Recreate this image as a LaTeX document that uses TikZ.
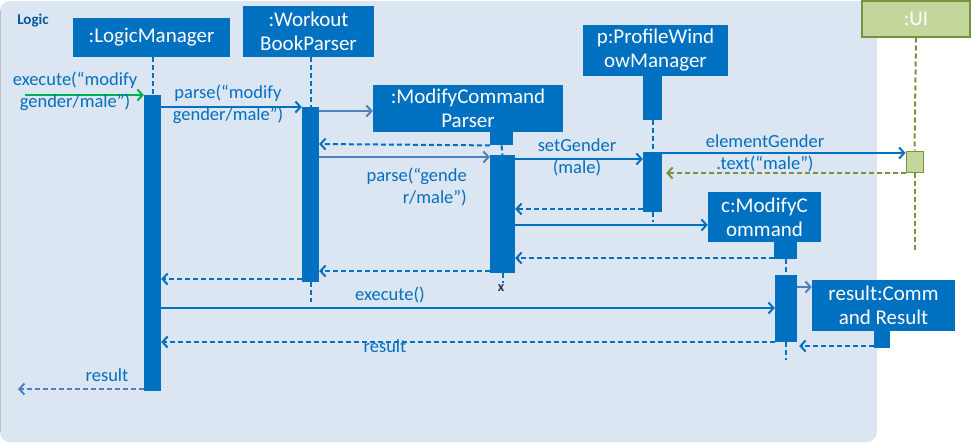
\documentclass[tikz,border=0pt]{standalone}
\usepackage{fontspec}
\setmainfont{Carlito}
\usetikzlibrary{arrows.meta}
\definecolor{mainblue}{RGB}{0,112,192}
\definecolor{steelblue}{RGB}{79,129,189}
\definecolor{panelblue}{RGB}{220,230,242}
\definecolor{uigreen}{RGB}{195,214,155}
\definecolor{olivegreen}{RGB}{119,147,60}
\definecolor{callgreen}{RGB}{0,176,80}
\definecolor{navy}{RGB}{31,56,100}

\tikzset{
  lifebox/.style={fill=mainblue, text=white, align=center, inner sep=0pt,
    font=\fontsize{21}{24}\selectfont},
  actbar/.style={fill=mainblue, inner sep=0pt, minimum width=17},
  lifeline/.style={draw=mainblue, line width=2pt, dash pattern=on 5pt off 3pt},
  msg/.style={draw=mainblue, line width=2pt, -{Straight Barb[length=5pt,width=11pt]}},
  retmsg/.style={msg, dash pattern=on 5pt off 3pt},
  msglabel/.style={text=mainblue, align=center, inner sep=0pt,
    font=\fontsize{18.5}{22}\selectfont}
}

\begin{document}
\begin{tikzpicture}[x=1pt, y=-1pt]
  \useasboundingbox (0,0) rectangle (971,442);

  % Hintergrund
  \fill[panelblue, rounded corners=10] (0,1) rectangle (877,442);
  \draw[black!25, line width=1.5] (0.7,10) -- (0.7,432);
  \node[text=mainblue!80!black, font=\fontsize{15}{17}\selectfont\bfseries] (logic) at (33,21) {Logic};

  % Lebenslinien (Köpfe)
  \node[lifebox, minimum width=157, minimum height=39] (lm) at (151.5,37.5) {:LogicManager};
  \node[lifebox, minimum width=131, minimum height=51] (wbp) at (308.5,31.5) {:Workout\\BookParser};
  \node[lifebox, minimum width=190, minimum height=47] (mcp) at (468,108.5) {:ModifyCommand\\Parser};
  \node[lifebox, minimum width=145, minimum height=51] (pwm) at (655.5,50.5) {p:ProfileWind\\owManager};
  \node[lifebox, minimum width=113, minimum height=50] (cmc) at (764.5,217) {c:ModifyC\\ommand};
  \node[lifebox, minimum width=143, minimum height=51] (cr) at (883.5,305.5) {result:Comm\\and Result};
  \node[lifebox, fill=uigreen, draw=olivegreen, line width=2pt,
        minimum width=108, minimum height=36] (ui) at (916,18.5) {:UI};

  % kleine Bloecke unter den Koepfen
  \node[actbar, minimum width=23, minimum height=13, anchor=north] (mcpB) at (501.5,132) {};
  \node[actbar, minimum width=19, minimum height=44, anchor=north] (pwmB) at (652.5,75.5) {};
  \node[actbar, minimum width=23, minimum height=17, anchor=north] (cmcB) at (785.5,242) {};
  \node[actbar, minimum width=16, minimum height=17, anchor=north] (crB) at (882,331) {};

  % Aktivierungen
  \node[actbar, minimum height=296, anchor=north] (lmA) at (152.5,95) {};
  \node[actbar, minimum height=175, anchor=north] (wbpA) at (310.5,107) {};
  \node[actbar, minimum width=25, minimum height=118, anchor=north] (mcpA) at (502.5,155) {};
  \node[actbar, minimum width=19, minimum height=60, anchor=north] (pwmA) at (652.5,152) {};
  \node[actbar, minimum width=22, minimum height=67, anchor=north] (cmcA) at (786,275) {};
  \node[fill=uigreen, draw=olivegreen, line width=1pt, inner sep=0pt,
        minimum width=17, minimum height=21, anchor=north] (uiA) at (914.5,150.5) {};

  % gestrichelte Linien
  \draw[lifeline] (lm.south -| lmA) -- (lmA.north);
  \draw[lifeline] (wbp.south -| wbpA) -- (wbpA.north);
  \draw[lifeline] (wbpA.south) -- ++(0,20);
  \draw[lifeline] (mcpB.south) -- (mcpA.north);
  \draw[lifeline] (mcpA.south) -- ++(0,10);
  \node[text=navy, font=\fontsize{14}{14}\selectfont\bfseries, inner sep=0pt] (mcpX) at (501,288) {x};
  \draw[lifeline] (pwmB.south) -- (pwmA.north);
  \draw[lifeline] (pwmA.south) -- ++(0,10);
  \draw[lifeline] (cmcB.south -| cmcA) -- (cmcA.north);
  \draw[lifeline] (cmcA.south) -- ++(0,18);
  \draw[lifeline, draw=olivegreen] (ui.south) -- (uiA.north);
  \draw[lifeline, draw=olivegreen] (uiA.south) -- ++(0,78);

  % Nachrichten
  \coordinate (start) at (25,95);
  \coordinate (finish) at (18,389);
  \draw[msg, draw=callgreen] (start) -- (lmA.west |- start);
  \node[msglabel] (l1) at (75,91) {execute(“modify\\gender/male”)};

  \draw[msg] (lmA.east |- 0,107) -- (wbpA.west |- 0,107);
  \node[msglabel] (l2) at (228,104) {parse(“modify\\gender/male”)};

  \draw[msg, draw=steelblue] (wbpA.east |- 0,111) -- (mcp.west |- 0,111);
  \draw[retmsg] (mcpB.south west) -- (wbpA.east |- 0,144);

  \draw[msg, draw=steelblue] (wbpA.east |- 0,157) -- (mcpA.west |- 0,157);
  \node[msglabel, align=right, anchor=east] (l3) at (467,187) {parse(“gende\\r/male”)};

  \draw[msg] (mcpA.east |- 0,159) -- (pwmA.west |- 0,159);
  \node[msglabel] (l4) at (577,157) {setGender\\(male)};

  \draw[msg] (pwmA.east |- 0,153) -- (uiA.west |- 0,153);
  \node[msglabel] (l5) at (765,153) {elementGender\\.text(“male”)};
  \draw[retmsg, draw=olivegreen] (uiA.west |- 0,173) -- ([xshift=4]pwmA.east |- 0,173);

  \draw[retmsg] (pwmA.west |- 0,209) -- (mcpA.east |- 0,209);
  \draw[msg] (mcpA.east |- 0,225) -- (cmc.west |- 0,225);
  \draw[retmsg] (cmcB.west |- 0,258) -- (mcpA.east |- 0,258);
  \draw[retmsg] (mcpA.west |- 0,271) -- (wbpA.east |- 0,271);
  \draw[retmsg] (wbpA.west |- 0,279) -- (lmA.east |- 0,279);

  \draw[msg] (lmA.east |- 0,308) -- (cmcA.west |- 0,308);
  \node[msglabel] (l6) at (390,295) {execute()};

  \draw[msg, draw=steelblue] (cmcA.east |- 0,287) -- (cr.west |- 0,287);
  \draw[retmsg] (crB.west |- 0,346) -- ([xshift=2]cmcA.east |- 0,346);
  \draw[retmsg] (cmcA.west |- 0,342) -- (lmA.east |- 0,342);
  \node[msglabel] (l7) at (385,346) {result};

  \draw[retmsg, draw=steelblue] (lmA.west |- finish) -- (finish);
  \node[msglabel] (l8) at (107,375) {result};
\end{tikzpicture}
\end{document}
